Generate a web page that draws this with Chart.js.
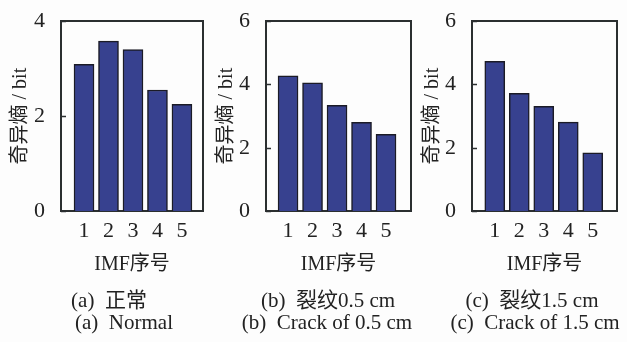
<!DOCTYPE html>
<html lang="zh">
<head>
<meta charset="UTF-8">
<title>奇异熵</title>
<script src="https://cdn.jsdelivr.net/npm/chart.js"></script>
<style>
  body { margin: 0; background: #fdfdfd; }
  #wrap { position: relative; width: 627px; height: 342px; overflow: hidden; }
  canvas { position: absolute; top: 0; }
  .cap {
    position: absolute; transform: translate(-50%, -50%);
    font: 21px 'Liberation Serif', 'Noto Sans CJK SC', serif;
    color: #222; white-space: pre;
  }
</style>
</head>
<body>
<div id="wrap">
  <canvas id="c1" width="210" height="342" style="left:0px"></canvas>
  <canvas id="c2" width="210" height="342" style="left:207px"></canvas>
  <canvas id="c3" width="212" height="342" style="left:415px"></canvas>
  <div class="cap" style="left:109px;top:298px">(a)  正常</div>
  <div class="cap" style="left:124px;top:322px">(a)  Normal</div>
  <div class="cap" style="left:328px;top:298px">(b)  裂纹0.5 cm</div>
  <div class="cap" style="left:327px;top:322px">(b)  Crack of 0.5 cm</div>
  <div class="cap" style="left:532px;top:298px">(c)  裂纹1.5 cm</div>
  <div class="cap" style="left:535px;top:322px">(c)  Crack of 1.5 cm</div>
</div>
<script>
  // IMF index
  const categories = [1, 2, 3, 4, 5];
  // singular entropy (bit) per case
  const normalEntropy = [3.09, 3.58, 3.40, 2.55, 2.25];
  const crack05Entropy = [4.27, 4.05, 3.34, 2.80, 2.42];
  const crack15Entropy = [4.73, 3.72, 3.31, 2.81, 1.84];
  const yMax1 = 4;
  const yMax23 = 6;

  const frameColor = '#2b2f30';

  Chart.defaults.font.family = "'Liberation Serif', 'Noto Sans CJK SC', serif";
  Chart.defaults.color = '#222';

  // short inward ticks on the y axis
  const innerTicks = {
    id: 'innerTicks',
    afterDatasetsDraw(chart) {
      const { ctx, chartArea: a, scales: { y } } = chart;
      ctx.save();
      ctx.strokeStyle = frameColor;
      ctx.lineWidth = 1.5;
      y.ticks.forEach(t => {
        const py = Math.round(y.getPixelForValue(t.value)) + 0.5;
        ctx.beginPath();
        ctx.moveTo(a.left, py);
        ctx.lineTo(a.left + 5, py);
        ctx.stroke();
      });
      ctx.restore();
    }
  };

  // plain axis used only to draw one side of the box
  function edgeAxis(position, extra) {
    return Object.assign({
      position: position,
      display: true,
      grid: { display: false },
      ticks: { display: false },
      border: { display: true, color: frameColor, width: 2 }
    }, extra);
  }

  function makeChart(id, values, yMax, opts) {
    new Chart(document.getElementById(id), {
      type: 'bar',
      data: {
        datasets: [{
          data: categories.map((c, i) => ({ x: c, y: values[i] })),
          backgroundColor: '#37418f',
          borderColor: '#1b1b26',
          borderWidth: 1.5,
          barThickness: 20
        }]
      },
      options: {
        responsive: false,
        animation: false,
        layout: { padding: { left: 0, right: opts.padRight, top: 18, bottom: 61 } },
        plugins: { legend: { display: false }, tooltip: { enabled: false } },
        scales: {
          x: {
            type: 'linear',
            offset: false,
            min: opts.xMin,
            max: opts.xMax,
            grid: { display: false },
            border: { display: true, color: frameColor, width: 2 },
            afterBuildTicks: s => { s.ticks = categories.map(v => ({ value: v })); },
            afterFit: s => { s.height = 70; },
            ticks: { font: { size: 22 }, padding: -1, maxRotation: 0 },
            title: { display: true, text: 'IMF序号', font: { size: 20 }, padding: { top: 0, bottom: 4 } }
          },
          y: {
            min: 0,
            max: yMax,
            grid: { display: false },
            border: { display: true, color: frameColor, width: 2 },
            afterFit: s => { s.width = opts.yWidth; },
            ticks: { stepSize: 2, font: { size: 22 }, padding: 8 },
            title: { display: true, text: '奇异熵 / bit', font: { size: 20 }, padding: { top: opts.titlePad, bottom: 0 } }
          },
          xTop: edgeAxis('top', { type: 'linear', offset: false, min: opts.xMin, max: opts.xMax, afterFit: s => { s.height = 0; } }),
          yRight: edgeAxis('right', { type: 'linear', min: 0, max: yMax, afterFit: s => { s.width = 0; } })
        }
      },
      plugins: [innerTicks]
    });
  }

  makeChart('c1', normalEntropy, yMax1, { xMin: 0.06, xMax: 5.86, padRight: 7, yWidth: 61, titlePad: 9 });
  makeChart('c2', crack05Entropy, yMax23, { xMin: 0.10, xMax: 6.02, padRight: 6, yWidth: 59, titlePad: 8 });
  makeChart('c3', crack15Entropy, yMax23, { xMin: 0.07, xMax: 5.99, padRight: 10, yWidth: 57, titlePad: 6 });
</script>
</body>
</html>
